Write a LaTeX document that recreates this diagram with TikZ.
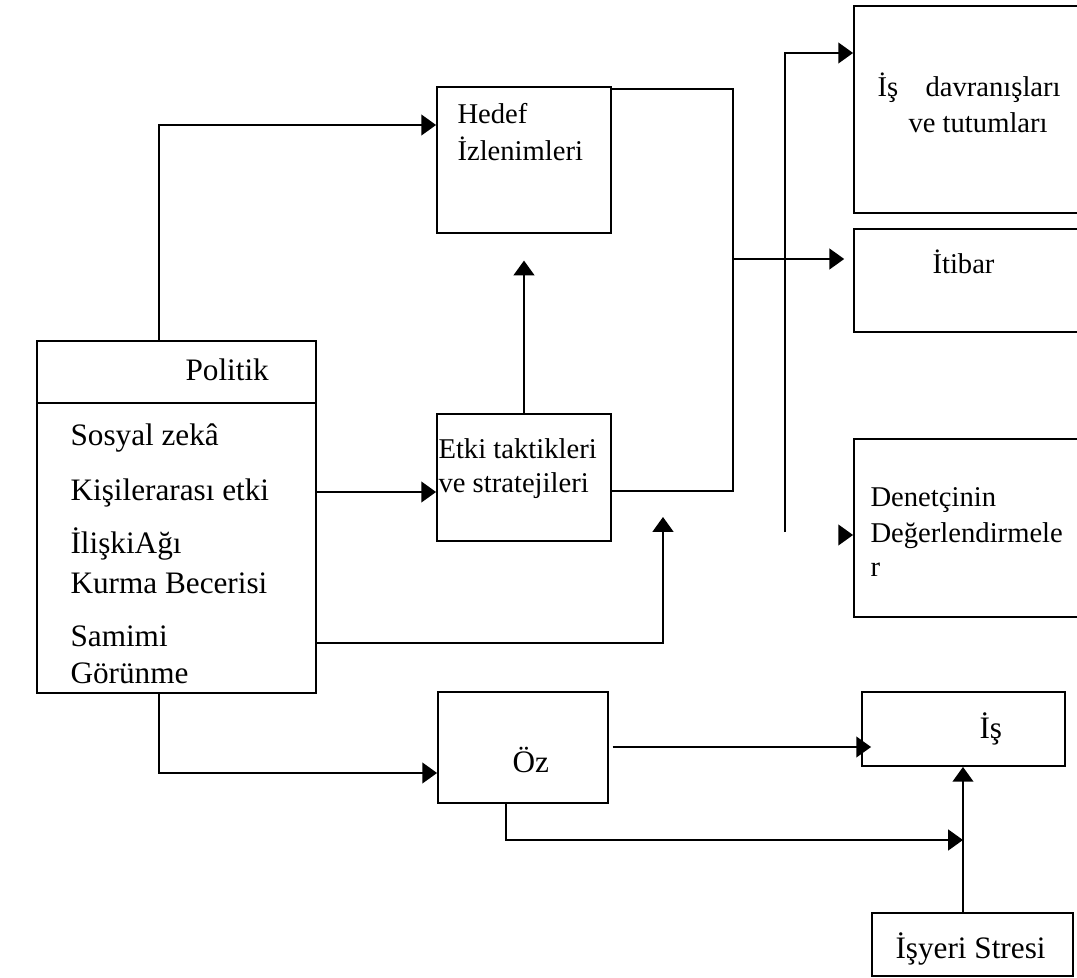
\documentclass[tikz,border=0pt]{standalone}
\usepackage{fontspec}
\setmainfont{Liberation Serif}
\usetikzlibrary{arrows.meta, fit}
\tikzset{
  box/.style={draw, line width=0.7pt, inner sep=0pt},
  lbl/.style={anchor=base west, inner sep=0pt, font=\fontsize{12}{14}\selectfont},
  slbl/.style={anchor=base west, inner sep=0pt, font=\fontsize{11}{13}\selectfont},
  ln/.style={line width=0.7pt},
  arr/.style={line width=0.7pt, -{Triangle[length=5.7pt,width=8pt]}}
}

\begin{document}
\begin{tikzpicture}[x=0.0135cm, y=-0.0135cm]
 \useasboundingbox (0,0) rectangle (1077,978);
 \clip (0,0) rectangle (1077,978);
 %boxes
 \node[box, fit={(37,341) (316,693)}] (politik) {};
 \draw[ln] (37,403) -- (316,403);
 \node[box, fit={(437,87) (611,233)}] (hedef) {};
 \node[box, fit={(437,414) (611,541)}] (etki) {};
 \node[box, fit={(438,692) (608,803)}] (oz) {};
 \node[box, fit={(854,6) (1095,213)}] (davranis) {};
 \node[box, fit={(854,229) (1095,332)}] (itibar) {};
 \node[box, fit={(854,439) (1095,617)}] (denetci) {};
 \node[box, fit={(862,692) (1065,766)}] (is) {};
 \node[box, fit={(872,913) (1073,976)}] (stres) {};
 %texts
 \node[lbl] (tpolitik) at (185,380) {Politik};
 \node[lbl] (tsosyal) at (70,445) {Sosyal zekâ};
 \node[lbl] (tkisi) at (70,500) {Kişilerarası etki};
 \node[lbl] (tiliski) at (70,553) {İlişkiAğı};
 \node[lbl] (tkurma) at (70,593) {Kurma Becerisi};
 \node[lbl] (tsamimi) at (70,646) {Samimi};
 \node[lbl] (tgorunme) at (70,683) {Görünme};
 \node[slbl] (thedef) at (457,123) {Hedef};
 \node[slbl] (tizlen) at (457,160) {İzlenimleri};
 \node[slbl] (tetki) at (438,458) {Etki taktikleri};
 \node[slbl] (tstrat) at (438,492) {ve stratejileri};
 \node[slbl] (tis1) at (877,97) {İş};
 \node[slbl] (tdavr) at (925,97) {davranışları};
 \node[slbl] (ttutum) at (908,133) {ve tutumları};
 \node[slbl] (titibar) at (932,274) {İtibar};
 \node[slbl] (tdenet) at (870,507) {Denetçinin};
 \node[slbl] (tdeger) at (870,542) {Değerlendirmele};
 \node[slbl] (tr) at (870,577) {r};
 \node[lbl] (toz) at (512,772) {Öz};
 \node[lbl] (tis) at (979,738) {İş};
 \node[lbl] (tstres) at (895,958) {İşyeri Stresi};
 %free ends
 \coordinate (j1) at (733,259);
 \coordinate (j2) at (785,532);
 \coordinate (up1) at (663,517);
 \coordinate (d0) at (840,535);
 \coordinate (j3) at (963,840);
 %connectors
 \draw[arr] (politik.north -| 159,0) |- (hedef.west |- 0,125);
 \draw[arr] (politik.east |- 0,492) -- (etki.west |- 0,492);
 \draw[arr, shorten >=0.36cm] (etki) -- (hedef);
 \draw[arr] (politik.east |- 0,643) -| (up1);
 \draw[ln] (hedef.east |- 0,89) -| (j1) |- (etki.east |- 0,491);
 \draw[arr, shorten >=0.12cm] (j1) -- (itibar.west |- j1);
 \draw[arr] (j2) |- (davranis.west |- 0,53);
 \draw[arr] (d0) -- (denetci.west |- d0);
 \draw[arr] (politik.south -| 159,0) |- (oz.west |- 0,773);
 \draw[arr, shorten <=0.05cm, shorten >=-0.135cm] (oz.east |- 0,747) -- (is.west |- 0,747);
 \draw[arr] (oz.south -| 506,0) |- (j3);
 \draw[arr] (stres.north -| j3) -- (is.south -| j3);
\end{tikzpicture}
\end{document}
